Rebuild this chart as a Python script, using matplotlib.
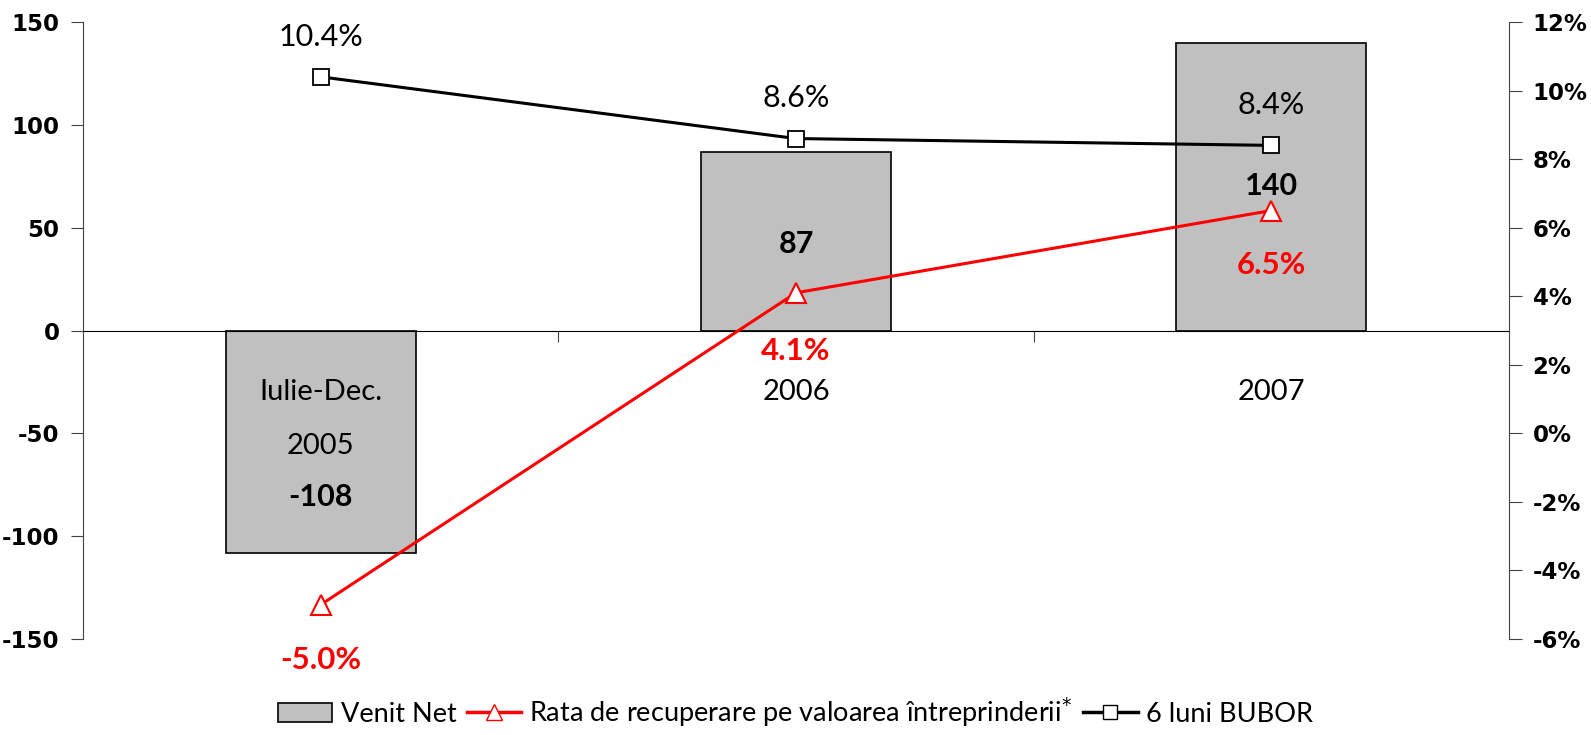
import matplotlib
matplotlib.use("Agg")
import matplotlib.pyplot as plt
from matplotlib.patches import Patch
from matplotlib.lines import Line2D

categories = ["Iulie-Dec.\n2005", "2006", "2007"]
venit_net = [-108, 87, 140]
rata_recuperare = [-5.0, 4.1, 6.5]
bubor_6l = [10.4, 8.6, 8.4]
left_ticks = [-150, -100, -50, 0, 50, 100, 150]
right_ticks = [-6, -4, -2, 0, 2, 4, 6, 8, 10, 12]

narrow = ['Lato', 'DejaVu Sans']
boldf = ['DejaVu Sans']

fig = plt.figure(figsize=(15.91, 7.35), dpi=100)
ax = fig.add_axes([83/1591, 1 - 639/735, (1509-83)/1591, (639-22)/735])
x = list(range(len(categories)))

ax.bar(x, venit_net, width=0.4, color='#C0C0C0', edgecolor='black', linewidth=1.2, zorder=2)
ax.set_xlim(-0.5, 2.5)
ax.set_ylim(-150, 150)
ax.set_yticks(left_ticks)
ax.set_yticklabels([str(v) for v in left_ticks], fontsize=16.5, fontweight='bold', family=boldf)
ax.spines['top'].set_visible(False)
ax.spines['right'].set_visible(False)
ax.spines['bottom'].set_position(('data', 0))
ax.spines['left'].set_color('#444444')
ax.set_xticks([0.5, 1.5])
ax.set_xticklabels([])
ax.tick_params(axis='x', direction='out', length=8, color='#444444')
ax.tick_params(axis='y', direction='out', length=9, color='#444444', pad=8)

# category labels
cat_lines = [c.split("\n") for c in categories]
ax.text(0, -30, cat_lines[0][0], ha='center', va='center', fontsize=21, family=narrow)
ax.text(0, -56, cat_lines[0][1], ha='center', va='center', fontsize=21, family=narrow)
ax.text(1, -30, cat_lines[1][0], ha='center', va='center', fontsize=21, family=narrow)
ax.text(2, -30, cat_lines[2][0], ha='center', va='center', fontsize=21, family=narrow)

# bar value labels
ax.text(0, -81, f"{venit_net[0]}", ha='center', va='center', fontsize=22, fontweight='bold', family=narrow)
ax.text(1, 42, f"{venit_net[1]}", ha='center', va='center', fontsize=22, fontweight='bold', family=narrow)
ax.text(2, 70.5, f"{venit_net[2]}", ha='center', va='center', fontsize=22, fontweight='bold', family=narrow)

ax2 = ax.twinx()
ax2.set_ylim(-6, 12)
ax2.set_yticks(right_ticks)
ax2.set_yticklabels([f"{v}%" for v in right_ticks], fontsize=16.5, fontweight='bold', family=boldf)
ax2.spines['top'].set_visible(False)
ax2.spines['left'].set_visible(False)
ax2.spines['bottom'].set_visible(False)
ax2.spines['right'].set_color('#444444')
ax2.tick_params(axis='y', direction='out', length=9, color='#444444', pad=8)

ax2.plot(x, rata_recuperare, color='#FF0000', linewidth=2.2, marker='^', markersize=14,
         markerfacecolor='white', markeredgecolor='#FF0000', markeredgewidth=1.5, zorder=3)
ax2.plot(x, bubor_6l, color='black', linewidth=2.2, marker='s', markersize=11,
         markerfacecolor='white', markeredgecolor='black', markeredgewidth=1.3, zorder=3)

# line labels
red_off = [-40, -42, -39]
for i, v in enumerate(rata_recuperare):
    ax2.annotate(f"{v:.1f}%", (i, v), xytext=(0, red_off[i]), textcoords='offset points',
                 ha='center', va='center', fontsize=22.5, fontweight='bold', color='#FF0000', family=narrow)
for i, v in enumerate(bubor_6l):
    ax2.annotate(f"{v:.1f}%", (i, v), xytext=(0, 29), textcoords='offset points',
                 ha='center', va='center', fontsize=22, color='black', family=narrow)

handles = [
    Patch(facecolor='#C0C0C0', edgecolor='black', linewidth=1.2),
    Line2D([0], [0], color='#FF0000', linewidth=2.5, marker='^', markersize=12,
           markerfacecolor='white', markeredgecolor='#FF0000'),
    Line2D([0], [0], color='black', linewidth=2.5, marker='s', markersize=10,
           markerfacecolor='white', markeredgecolor='black'),
]
labels = ["Venit Net", "Rata de recuperare pe valoarea întreprinderii$^{*}$", "6 luni BUBOR"]
fig.legend(handles, labels, loc='center', bbox_to_anchor=(0.5, 1 - 712/735), ncol=3, frameon=False,
           prop={'family': narrow, 'size': 19.5}, handlelength=2.0, handletextpad=0.3, columnspacing=0.4)

fig.savefig("out.png", dpi=100)
